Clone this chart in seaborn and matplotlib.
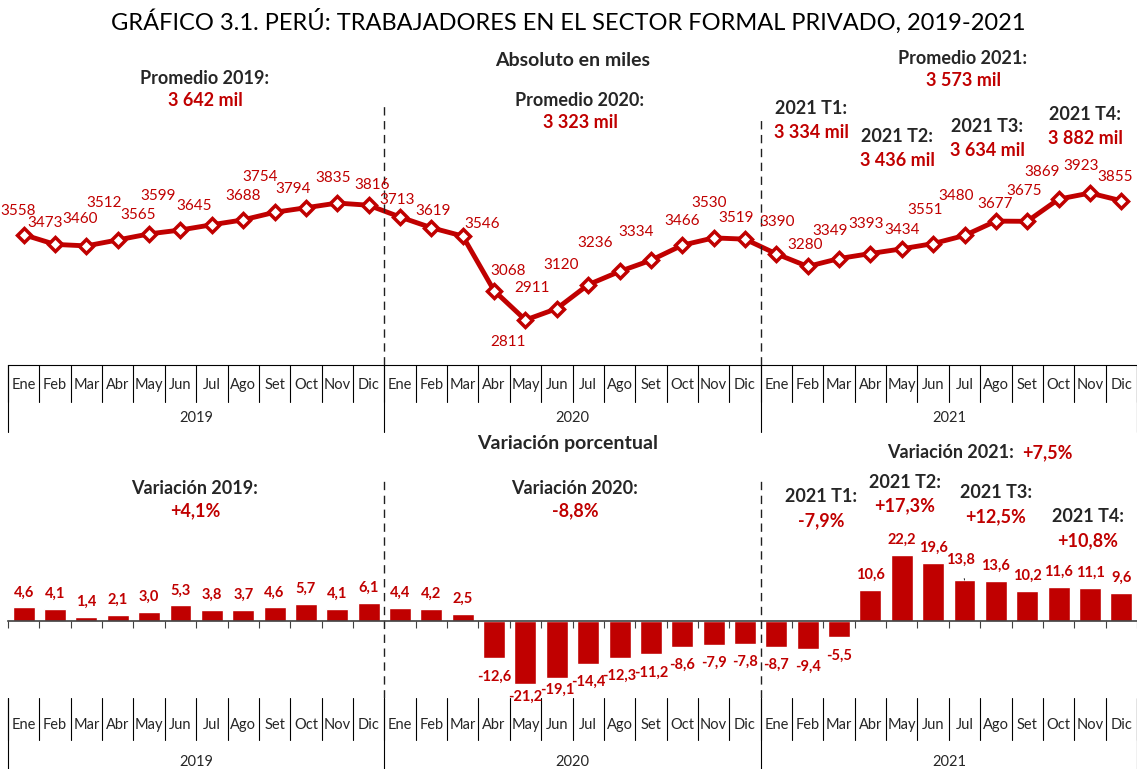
import numpy as np
import pandas as pd
import matplotlib
matplotlib.use('Agg')
import matplotlib.pyplot as plt
import matplotlib.transforms as mtransforms
import seaborn as sns

# datos
meses = ['Ene', 'Feb', 'Mar', 'Abr', 'May', 'Jun', 'Jul', 'Ago', 'Set', 'Oct', 'Nov', 'Dic']
anios = ['2019', '2020', '2021']

trab_2019 = [3558, 3473, 3460, 3512, 3565, 3599, 3645, 3688, 3754, 3794, 3835, 3816]
trab_2020 = [3713, 3619, 3546, 3068, 2811, 2911, 3120, 3236, 3334, 3466, 3530, 3519]
trab_2021 = [3390, 3280, 3349, 3393, 3434, 3480, 3551, 3677, 3675, 3869, 3923, 3855]

var_2019 = [4.6, 4.1, 1.4, 2.1, 3.0, 5.3, 3.8, 3.7, 4.6, 5.7, 4.1, 6.1]
var_2020 = [4.4, 4.2, 2.5, -12.6, -21.2, -19.1, -14.4, -12.3, -11.2, -8.6, -7.9, -7.8]
var_2021 = [-8.7, -9.4, -5.5, 10.6, 22.2, 19.6, 13.8, 13.6, 10.2, 11.6, 11.1, 9.6]

promedios = ['3 642 mil', '3 323 mil', '3 573 mil']
trim_abs = ['3 334 mil', '3 436 mil', '3 634 mil', '3 882 mil']
var_anual = ['+4,1%', '-8,8%', '+7,5%']
trim_var = ['-7,9%', '+17,3%', '+12,5%', '+10,8%']

df = pd.DataFrame({
    'anio': np.repeat(anios, 12),
    'mes': meses * 3,
    'trab': trab_2019 + trab_2020 + trab_2021,
    'var': var_2019 + var_2020 + var_2021,
})
df['idx'] = np.arange(len(df))

ROJO = '#C00000'

sns.set_theme(style='white')
plt.rcParams['font.family'] = ['Lato', 'DejaVu Sans']

W, H = 1137, 769
fig = plt.figure(figsize=(W / 100, H / 100), dpi=100)

def fx(px):
    return px / W

def fy(py):
    return 1 - py / H

# paneles (en pixeles de la figura)
ax1 = fig.add_axes([fx(8), fy(365), fx(1137) - fx(8), (365 - 45) / H])
ax2 = fig.add_axes([fx(8), fy(698), fx(1137) - fx(8), (698 - 455) / H])

# ---- panel superior: linea ----
sns.lineplot(data=df, x='idx', y='trab', ax=ax1, color=ROJO, lw=3.5,
             marker='D', markersize=7.5, markerfacecolor='white',
             markeredgecolor=ROJO, markeredgewidth=2.5)
ax1.set_xlim(-0.5, 35.5)
ax1.set_ylim(2417, 5219)

# desplazamiento de etiquetas (px), como en el original
off_linea = [(-6, 24), (-10, 21), (-6, 27), (-14, 37), (-11, 19), (-22, 34),
             (-18, 19), (0, 24), (-14, 35), (-13, 19), (-4, 25), (3, 20),
             (-3, 17), (2, 17), (19, 12), (14, 20), (-17, -22), (-25, 21),
             (-27, 20), (-24, 28), (-15, 28), (0, 24), (-5, 35), (-9, 21),
             (1, 32), (-3, 21), (-9, 28), (-4, 30), (0, 19), (23, 48),
             (-39, 25), (-1, 17), (-3, 30), (-16, 27), (-9, 27), (-6, 24)]
for i, row in df.iterrows():
    ax1.annotate(str(row['trab']), (row['idx'], row['trab']), xytext=off_linea[i],
                 textcoords='offset pixels', ha='center', va='center',
                 fontsize=11, color=ROJO)

# ---- panel inferior: barras ----
sns.barplot(data=df, x='idx', y='var', ax=ax2, color=ROJO, saturation=1,
            width=0.7, errorbar=None)
ax2.set_xlim(-0.5, 35.5)
ax2.set_ylim(-25.9, 55.9)

off_barra = {16: -13, 17: -12}
for i, row in df.iterrows():
    v = row['var']
    dy = off_barra.get(i, 15 if v > 0 else -18)
    txt = f'{v:.1f}'.replace('.', ',')
    if i == 30:
        ax2.annotate(txt, (row['idx'], v), xytext=(-4, 20), textcoords='offset pixels',
                     ha='center', va='center', fontsize=10.5, fontweight='bold', color=ROJO,
                     arrowprops=dict(arrowstyle='-', color='black', lw=0.6,
                                     shrinkA=6, shrinkB=0))
    else:
        ax2.annotate(txt, (row['idx'], v), xytext=(0, dy), textcoords='offset pixels',
                     ha='center', va='center', fontsize=10.5, fontweight='bold', color=ROJO)

# ejes
for ax in (ax1, ax2):
    ax.set_xlabel('')
    ax.set_ylabel('')
    ax.set_yticks([])
    for s in ('left', 'right', 'top'):
        ax.spines[s].set_visible(False)
    ax.patch.set_alpha(0)

ax1.set_xticks([])
ax1.spines['bottom'].set_color('black')
ax1.spines['bottom'].set_linewidth(0.8)

ax2.spines['bottom'].set_position(('data', 0))
ax2.spines['bottom'].set_color('#404040')
ax2.spines['bottom'].set_linewidth(1.2)
ax2.set_xticks(np.arange(-0.5, 36, 1))
ax2.tick_params(axis='x', length=5, width=0.8, direction='out', color='#404040',
                labelbottom=False, bottom=True)

# eje de categorias de dos niveles
def categorias(ax, y_mes, y_sep_mes, y_anio, y_sep_anio, y0=0):
    tr = mtransforms.blended_transform_factory(ax.transData, ax.transAxes)
    for b in np.arange(-0.5, 36, 1):
        ax.plot([b, b], [y0, y_sep_mes], transform=tr, color='black', lw=0.8, clip_on=False)
    for b in (-0.5, 11.5, 23.5, 35.5):
        ax.plot([b, b], [y0, y_sep_anio], transform=tr, color='black', lw=0.8, clip_on=False)
    for i, m in enumerate(df['mes']):
        ax.text(i, y_mes, m, transform=tr, ha='center', va='center', fontsize=10.5)
    for k, a in enumerate(anios):
        ax.text(5.5 + 12 * k, y_anio, a, transform=tr, ha='center', va='center', fontsize=10.5)

categorias(ax1, (365 - 385) / 320, (365 - 402) / 320, (365 - 418) / 320, (365 - 432) / 320)
categorias(ax2, (698 - 725) / 243, (698 - 740) / 243, (698 - 762) / 243, (698 - 769) / 243)

# separadores punteados entre anios
tr1 = mtransforms.blended_transform_factory(ax1.transData, ax1.transAxes)
tr2 = mtransforms.blended_transform_factory(ax2.transData, ax2.transAxes)
ax1.plot([11.5, 11.5], [0, (365 - 103) / 320], transform=tr1, color='#202020', lw=1, ls=(0, (6, 4)))
ax1.plot([23.5, 23.5], [0, (365 - 118) / 320], transform=tr1, color='#202020', lw=1, ls=(0, (6, 4)))
for b in (11.5, 23.5):
    ax2.plot([b, b], [0, (698 - 478) / 243], transform=tr2, color='#202020', lw=1, ls=(0, (6, 4)))

# textos
fig.text(fx(568), fy(21), 'GRÁFICO 3.1. PERÚ: TRABAJADORES EN EL SECTOR FORMAL PRIVADO, 2019-2021',
         ha='center', va='center', fontsize=17, color='black')
fig.text(fx(573), fy(60), 'Absoluto en miles', ha='center', va='center',
         fontsize=14, fontweight='bold')
fig.text(fx(568), fy(443), 'Variación porcentual', ha='center', va='center',
         fontsize=14, fontweight='bold')

def rotulo(x, y, titulo, valor, dy=23):
    fig.text(fx(x), fy(y), titulo, ha='center', va='center', fontsize=13, fontweight='bold')
    fig.text(fx(x), fy(y + dy), valor, ha='center', va='center', fontsize=13,
             fontweight='bold', color=ROJO)

pos_prom = [(205, 78), (580, 100), (963, 58)]
for k, (x, y) in enumerate(pos_prom):
    rotulo(x, y, f'Promedio {anios[k]}:', promedios[k])

pos_trim = [(811, 108), (897, 137), (987, 126), (1085, 114)]
for k, (x, y) in enumerate(pos_trim):
    rotulo(x, y, f'2021 T{k + 1}:', trim_abs[k], dy=24)

pos_var = [(195, 489), (575, 489)]
for k, (x, y) in enumerate(pos_var):
    rotulo(x, y, f'Variación {anios[k]}:', var_anual[k], dy=22)
fig.text(fx(887), fy(453), 'Variación 2021:', ha='left', va='center', fontsize=13, fontweight='bold')
fig.text(fx(1022), fy(453), var_anual[2], ha='left', va='center', fontsize=13,
         fontweight='bold', color=ROJO)

pos_tvar = [(821, 497), (905, 482), (996, 493), (1088, 517)]
for k, (x, y) in enumerate(pos_tvar):
    rotulo(x, y, f'2021 T{k + 1}:', trim_var[k], dy=24)

fig.savefig('out.png', dpi=100)
